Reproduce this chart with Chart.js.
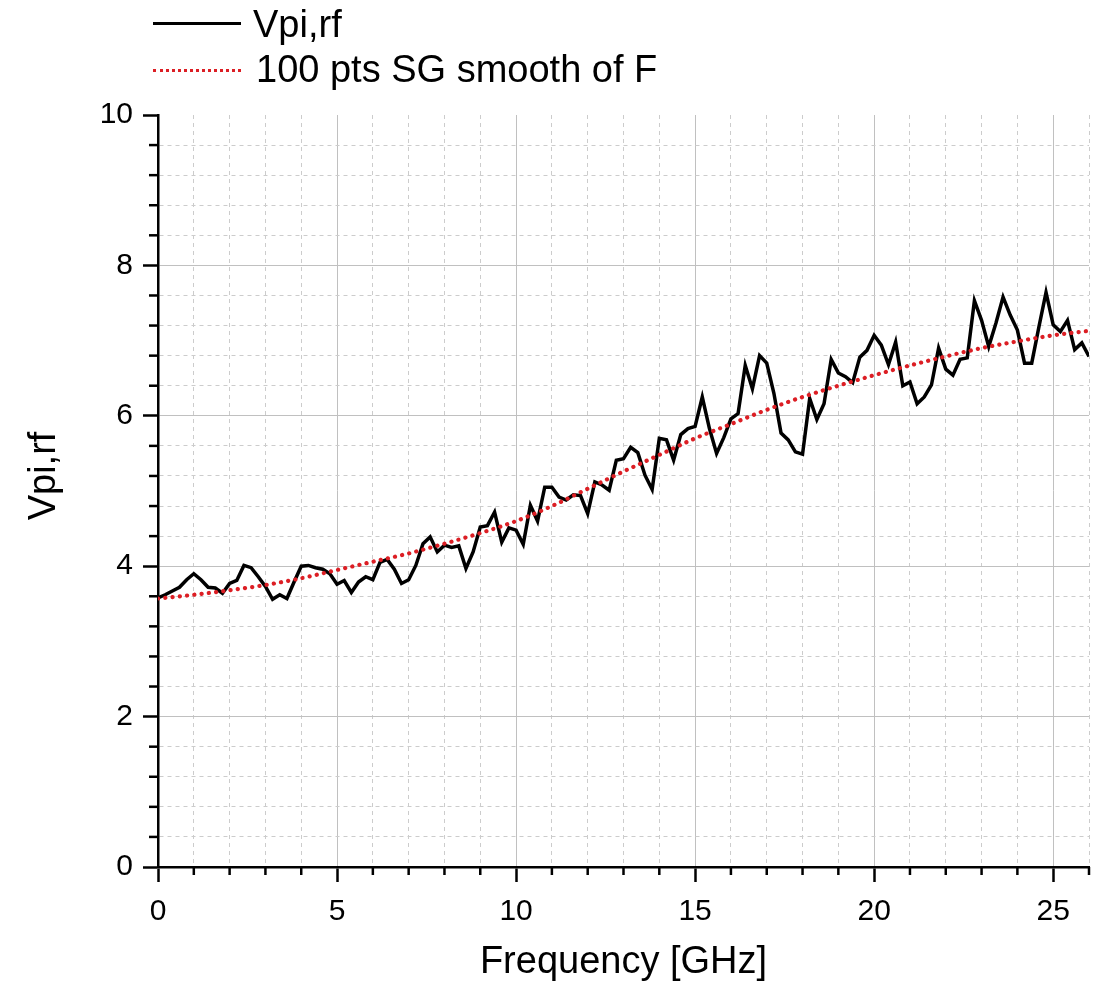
<!DOCTYPE html>
<html>
<head>
<meta charset="utf-8">
<script src="https://cdn.jsdelivr.net/npm/chart.js@4.4.1/dist/chart.umd.min.js"></script>
<style>
  html, body { margin: 0; padding: 0; background: #fff; }
  #wrap { position: relative; width: 1105px; height: 988px; }
  #legend { position: absolute; left: 0; top: 0; font-family: 'Liberation Sans', Arial, sans-serif; font-size: 38px; line-height: 38px; color: #000; }
  .item { position: absolute; white-space: nowrap; }
  .sample { position: absolute; left: 153px; width: 88px; height: 0; }
</style>
</head>
<body>
<div id="wrap">
  <canvas id="chart" width="1105" height="988"></canvas>
  <div id="legend"></div>
</div>
<script>
const freqGHz = [
  0.0, 0.2, 0.4, 0.6, 0.8, 1.0, 1.2, 1.4, 1.6, 1.8,
  2.0, 2.2, 2.4, 2.6, 2.8, 3.0, 3.2, 3.4, 3.6, 3.8,
  4.0, 4.2, 4.4, 4.6, 4.8, 5.0, 5.2, 5.4, 5.6, 5.8,
  6.0, 6.2, 6.4, 6.6, 6.8, 7.0, 7.2, 7.4, 7.6, 7.8,
  8.0, 8.2, 8.4, 8.6, 8.8, 9.0, 9.2, 9.4, 9.6, 9.8,
  10.0, 10.2, 10.4, 10.6, 10.8, 11.0, 11.2, 11.4, 11.6, 11.8,
  12.0, 12.2, 12.4, 12.6, 12.8, 13.0, 13.2, 13.4, 13.6, 13.8,
  14.0, 14.2, 14.4, 14.6, 14.8, 15.0, 15.2, 15.4, 15.6, 15.8,
  16.0, 16.2, 16.4, 16.6, 16.8, 17.0, 17.2, 17.4, 17.6, 17.8,
  18.0, 18.2, 18.4, 18.6, 18.8, 19.0, 19.2, 19.4, 19.6, 19.8,
  20.0, 20.2, 20.4, 20.6, 20.8, 21.0, 21.2, 21.4, 21.6, 21.8,
  22.0, 22.2, 22.4, 22.6, 22.8, 23.0, 23.2, 23.4, 23.6, 23.8,
  24.0, 24.2, 24.4, 24.6, 24.8, 25.0, 25.2, 25.4, 25.6, 25.8,
  26.0
];
const vpiRf = [
  3.58, 3.62, 3.67, 3.72, 3.82, 3.90, 3.82, 3.72, 3.71, 3.64,
  3.77, 3.81, 4.01, 3.98, 3.86, 3.73, 3.56, 3.62, 3.57, 3.79,
  4.00, 4.01, 3.98, 3.96, 3.90, 3.76, 3.81, 3.65, 3.79, 3.86,
  3.82, 4.05, 4.09, 3.96, 3.77, 3.82, 4.01, 4.30, 4.39, 4.19,
  4.28, 4.25, 4.27, 3.97, 4.19, 4.52, 4.54, 4.72, 4.32, 4.51,
  4.48, 4.29, 4.81, 4.60, 5.05, 5.05, 4.92, 4.88, 4.95, 4.94,
  4.70, 5.12, 5.08, 5.01, 5.41, 5.43, 5.58, 5.51, 5.21, 5.02,
  5.70, 5.68, 5.41, 5.75, 5.83, 5.86, 6.25, 5.83, 5.50, 5.71,
  5.96, 6.03, 6.67, 6.36, 6.80, 6.70, 6.30, 5.77, 5.68, 5.52,
  5.49, 6.23, 5.95, 6.16, 6.75, 6.57, 6.52, 6.44, 6.78, 6.87,
  7.07, 6.94, 6.68, 6.98, 6.40, 6.45, 6.16, 6.25, 6.41, 6.90,
  6.62, 6.54, 6.75, 6.77, 7.53, 7.27, 6.92, 7.23, 7.58, 7.34,
  7.14, 6.70, 6.70, 7.18, 7.64, 7.21, 7.12, 7.27, 6.88, 6.97,
  6.79
];

// Smoothed curve
const smoothFreq = [0, 1, 2, 3, 4, 5, 6, 7, 8, 9, 10, 11, 12, 13, 14, 15, 16, 17, 18, 19, 20, 21, 22, 23, 24, 25, 26];
const smoothVpi = [3.57, 3.62, 3.68, 3.75, 3.84, 3.95, 4.06, 4.17, 4.30, 4.44, 4.60, 4.80, 5.03, 5.26, 5.48, 5.70, 5.89, 6.08, 6.25, 6.40, 6.54, 6.67, 6.79, 6.90, 6.99, 7.07, 7.13];

const seriesNames = ["Vpi,rf", "100 pts SG smooth of F"];
const xTitle = "Frequency [GHz]";
const yTitle = "Vpi,rf";

const FONT = "'Liberation Sans', Arial, sans-serif";

function isMajor(v, step) {
  return Math.abs(v / step - Math.round(v / step)) < 1e-6;
}

// Chart.js has no minor ticks, so draw the short ones here.
// The y title sits a bit above the axis middle in the original, so it is drawn here too.
const extras = {
  id: "extras",
  afterDraw(chart) {
    const ctx = chart.ctx;
    const xs = chart.scales.x, ys = chart.scales.y;
    ctx.save();
    ctx.strokeStyle = "#000";
    ctx.lineWidth = 2.5;
    xs.ticks.forEach(t => {
      if (isMajor(t.value, 5)) return;
      const px = xs.getPixelForValue(t.value);
      ctx.beginPath();
      ctx.moveTo(px, xs.top);
      ctx.lineTo(px, xs.top + 8);
      ctx.stroke();
    });
    ys.ticks.forEach(t => {
      if (isMajor(t.value, 2)) return;
      const py = ys.getPixelForValue(t.value);
      ctx.beginPath();
      ctx.moveTo(ys.right, py);
      ctx.lineTo(ys.right - 9, py);
      ctx.stroke();
    });
    ctx.translate(45, ys.getPixelForValue(5.2));
    ctx.rotate(-Math.PI / 2);
    ctx.fillStyle = "#000";
    ctx.font = "38px " + FONT;
    ctx.textAlign = "center";
    ctx.textBaseline = "middle";
    ctx.fillText(yTitle, 0, 0);
    ctx.restore();
  }
};

const ctx = document.getElementById("chart").getContext("2d");
new Chart(ctx, {
  type: "line",
  data: {
    datasets: [
      {
        label: seriesNames[0],
        data: freqGHz.map((f, i) => ({ x: f, y: vpiRf[i] })),
        borderColor: "#000",
        borderWidth: 3.5,
        pointRadius: 0,
        tension: 0,
        order: 1
      },
      {
        label: seriesNames[1],
        data: smoothFreq.map((f, i) => ({ x: f, y: smoothVpi[i] })),
        borderColor: "#dc1e24",
        borderWidth: 4.2,
        borderDash: [0.1, 7.2],
        borderCapStyle: "round",
        pointRadius: 0,
        cubicInterpolationMode: "monotone",
        order: 0
      }
    ]
  },
  options: {
    responsive: false,
    animation: false,
    devicePixelRatio: 1,
    layout: { padding: { top: 115, right: 16, bottom: 0, left: 0 } },
    plugins: { legend: { display: false }, tooltip: { enabled: false } },
    scales: {
      x: {
        type: "linear",
        min: 0,
        max: 26,
        afterFit(scale) { scale.height = 121; },
        ticks: {
          stepSize: 1,
          includeBounds: false,
          autoSkip: false,
          maxRotation: 0,
          padding: 12,
          color: "#000",
          font: { family: FONT, size: 30 },
          callback: v => isMajor(v, 5) ? String(v) : ""
        },
        grid: {
          color: c => c.tick && isMajor(c.tick.value, 5) ? "#c0c0c0" : "#cccccc",
          lineWidth: 1,
          tickLength: 15,
          tickWidth: 2.5,
          tickColor: c => c.tick && isMajor(c.tick.value, 5) ? "#000" : "rgba(0,0,0,0)"
        },
        border: {
          color: "#000",
          width: 2.5,
          dash: c => c.tick && !isMajor(c.tick.value, 5) ? [4, 4] : []
        },
        title: {
          display: true,
          text: xTitle,
          color: "#000",
          font: { family: FONT, size: 38 },
          padding: { top: 0, bottom: 3 }
        }
      },
      y: {
        type: "linear",
        min: 0,
        max: 10,
        afterFit(scale) { scale.width = 158; },
        ticks: {
          stepSize: 0.4,
          autoSkip: false,
          padding: 10,
          color: "#000",
          font: { family: FONT, size: 30 },
          callback: v => isMajor(v, 2) ? String(Math.round(v)) : ""
        },
        grid: {
          color: c => {
            if (!c.tick) return "#c0c0c0";
            if (c.tick.value >= 10) return "rgba(0,0,0,0)";
            return isMajor(c.tick.value, 2) ? "#c0c0c0" : "#cccccc";
          },
          lineWidth: 1,
          tickLength: 15,
          tickWidth: 2.5,
          tickColor: c => c.tick && isMajor(c.tick.value, 2) ? "#000" : "rgba(0,0,0,0)"
        },
        border: {
          color: "#000",
          width: 2.5,
          dash: c => c.tick && !isMajor(c.tick.value, 2) ? [4, 4] : []
        },
        title: { display: false }
      }
    }
  },
  plugins: [extras]
});

// HTML legend, two rows at top left
const legend = document.getElementById("legend");
legend.innerHTML = `
  <div class="sample" style="top:22px;border-top:3px solid #000;"></div>
  <div class="item" style="left:253px;top:5px;">${seriesNames[0]}</div>
  <div class="sample" style="top:69px;border-top:3px dotted #dc1e24;"></div>
  <div class="item" style="left:256px;top:50px;">${seriesNames[1]}</div>`;
</script>
</body>
</html>
